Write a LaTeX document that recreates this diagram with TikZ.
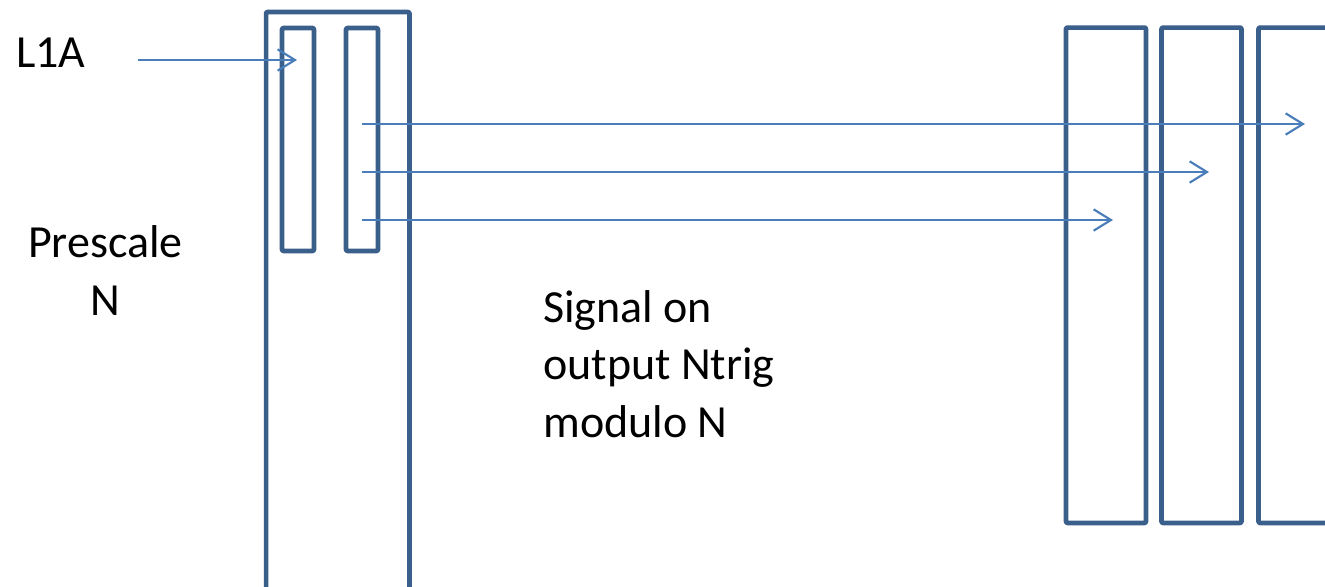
\documentclass[tikz,border=0pt]{standalone}
\usepackage{fontspec}
\setmainfont{Carlito}
\usepackage{tikz}
\usetikzlibrary{arrows.meta}
\definecolor{frame}{HTML}{3A5F8B}
\definecolor{wire}{HTML}{4A7EBB}
\tikzset{
  >={Straight Barb[length=13pt,width=16pt]},
  boxframe/.style={draw=frame,line width=3.4pt,rectangle,inner sep=0pt,
                   rounded corners=0.8pt},
  slot/.style={boxframe,minimum width=24pt,minimum height=167.25pt},
  trigbox/.style={boxframe,minimum width=60pt,minimum height=371.6pt},
  sig/.style={->,draw=wire,line width=1.6pt},
  bigtext/.style={inner sep=0pt,text=black,font=\fontsize{34.5}{43}\selectfont}
}

\begin{document}
\begin{tikzpicture}[x=0.75pt,y=-0.75pt,line join=round]
  \clip (0,0) rectangle (1325,586);
  % Prescaler
  \node[boxframe,minimum width=107.6pt,minimum height=471pt]
    (prescaler) at (337.75,326) {};
  \node[slot] (l1aslot) at (298,139.5) {};
  \node[slot] (outslot) at (362,139.5) {};

  % Trigger outputs
  \foreach \x [count=\i] in {1106,1201.5,1298.5}
    \node[trigbox] (trig\i) at (\x,275.25) {};

  % Labels (base = last line)
  \node[bigtext,anchor=base west] (l1a) at (16,67) {L1A};
  \node[bigtext,anchor=base,align=center] (prescale) at (105.5,315)
    {Prescale\\N};
  \node[bigtext,anchor=base west,align=left] (signal) at (543,437)
    {Signal on\\output Ntrig\\modulo N};

  % Wires
  \coordinate (l1a tail) at (138,60);
  \coordinate (l1a tip) at (297,60);
  \draw[sig] (l1a tail) -- (l1a tip);
  \foreach \y/\tip [count=\i] in {124/1305,172/1209,220/1113} {
    \coordinate (out\i) at (362,\y);
    \coordinate (trig\i in) at (\tip,\y);
    \draw[sig] (out\i) -- (trig\i in);
  }
\end{tikzpicture}
\end{document}
